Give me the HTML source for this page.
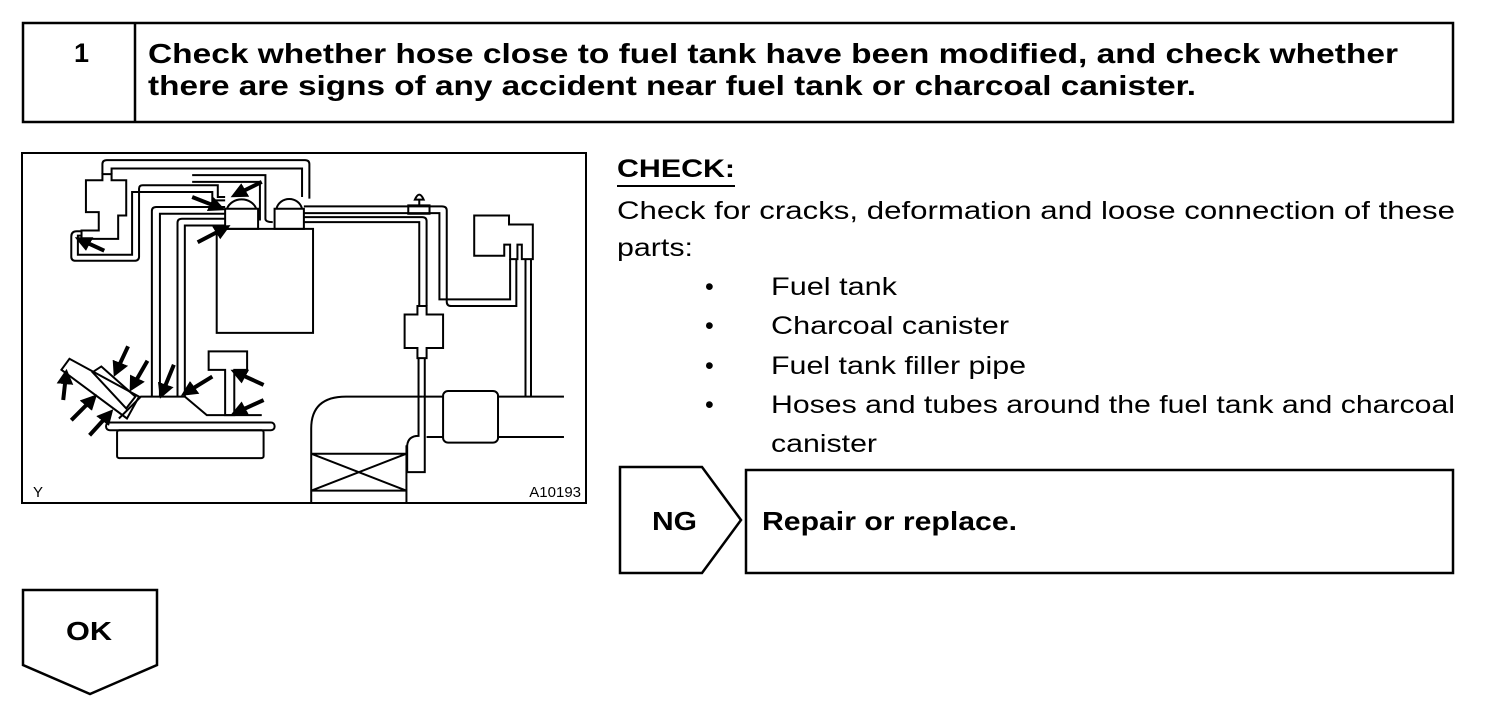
<!DOCTYPE html>
<html><head><meta charset="utf-8"><style>
html,body{margin:0;padding:0;background:#fff;}
svg{display:block;}
text{font-family:"Liberation Sans",Arial,sans-serif;fill:#000;}
.b{font-weight:bold;}
</style></head><body>
<svg width="1504" height="706" viewBox="0 0 1504 706" xmlns="http://www.w3.org/2000/svg">
<defs>
<marker id="ah" markerWidth="4" markerHeight="4" refX="2" refY="2" orient="auto" markerUnits="strokeWidth"><path d="M0,0 L4,2 L0,4 Z" fill="#000"/></marker>
</defs>
<!-- header -->
<rect x="23" y="23" width="1430" height="99" fill="none" stroke="#000" stroke-width="2.5"/>
<line x1="135" y1="23" x2="135" y2="122" stroke="#000" stroke-width="2.5"/>
<text x="74" y="62" class="b" font-size="27">1</text>
<text x="148" y="63" class="b" font-size="28" textLength="1250" lengthAdjust="spacingAndGlyphs">Check whether hose close to fuel tank have been modified, and check whether</text>
<text x="148" y="95" class="b" font-size="28" textLength="1048" lengthAdjust="spacingAndGlyphs">there are signs of any accident near fuel tank or charcoal canister.</text>

<!-- diagram -->
<g transform="translate(20,150) scale(0.3663,0.3356)" fill="none" stroke="#000">
<g stroke-width="2">
<rect x="537" y="235" width="263" height="310" vector-effect="non-scaling-stroke"/>
<rect x="560" y="175" width="90" height="60" vector-effect="non-scaling-stroke"/>
<rect x="695" y="175" width="80" height="60" vector-effect="non-scaling-stroke"/>
<path d="M565,175 A42,40 0 0 1 645,175" vector-effect="non-scaling-stroke"/>
<path d="M700,175 A36,38 0 0 1 770,175" vector-effect="non-scaling-stroke"/>
<path d="M180,90 H225 V72 H250 V90 H290 V195 H268 V265 H168 V240 H215 V185 H180 Z" vector-effect="non-scaling-stroke"/>
<path d="M225,72 V42 Q225,30 237,30 H778 Q790,30 790,42 V145" vector-effect="non-scaling-stroke"/>
<path d="M250,72 V55 H770 V140" vector-effect="non-scaling-stroke"/>
<path d="M470,75 H670 V205 Q670,215 690,215" vector-effect="non-scaling-stroke"/>
<path d="M470,95 H655 V210" vector-effect="non-scaling-stroke"/>
<path d="M168,242 H155 Q140,242 140,258 V318 Q140,330 152,330 H312 Q325,330 325,318 V115 Q325,105 335,105 H540 V140 H560" vector-effect="non-scaling-stroke"/>
<path d="M168,255 H158 V312 H306 V125 H525 V150 H560" vector-effect="non-scaling-stroke"/>
<path d="M560,170 H372 Q360,170 360,182 V735" vector-effect="non-scaling-stroke"/>
<path d="M560,190 H382 V735" vector-effect="non-scaling-stroke"/>
<path d="M560,205 H442 Q430,205 430,217 V735" vector-effect="non-scaling-stroke"/>
<path d="M560,225 H450 V735" vector-effect="non-scaling-stroke"/>
<path d="M775,168 H1152 Q1165,168 1165,180 V452 Q1165,465 1178,465 H1355 V325" vector-effect="non-scaling-stroke"/>
<path d="M775,188 H1145 V445 H1338 V325" vector-effect="non-scaling-stroke"/>
<path d="M775,200 H1098 Q1110,200 1110,212 V465" vector-effect="non-scaling-stroke"/>
<path d="M775,215 H1090 V465" vector-effect="non-scaling-stroke"/>
<rect x="1060" y="165" width="58" height="25" vector-effect="non-scaling-stroke"/>
<path d="M1078,148 Q1090,118 1102,148 Z M1090,148 V165" vector-effect="non-scaling-stroke"/>
<path d="M1085,465 H1110 V490 H1155 V590 H1110 V620 H1085 V590 H1050 V490 H1085 Z" vector-effect="non-scaling-stroke"/>
<path d="M1088,620 V852 Q1060,852 1057,880 V960" vector-effect="non-scaling-stroke"/>
<path d="M1105,620 V960 H1057" vector-effect="non-scaling-stroke"/>
<path d="M1240,195 H1335 V222 H1400 V325 H1370 V282 H1358 V325 H1338 V282 H1322 V315 H1240 Z" vector-effect="non-scaling-stroke"/>
<path d="M1380,325 V735 M1395,325 V735" vector-effect="non-scaling-stroke"/>
<path d="M1305,735 H1485 M1305,855 H1485 M1100,735 H1155 M1110,855 H1155" vector-effect="non-scaling-stroke"/>
<rect x="1155" y="718" width="150" height="154" rx="14" vector-effect="non-scaling-stroke"/>
<path d="M795,1050 V830 Q795,735 890,735 H1100" vector-effect="non-scaling-stroke"/>
<path d="M1055,880 V1050" vector-effect="non-scaling-stroke"/>
<path d="M795,905 H1055 M795,1015 H1055 M795,905 L1055,1015 M1055,905 L795,1015" vector-effect="non-scaling-stroke"/>
<rect x="265" y="835" width="400" height="83" rx="6" vector-effect="non-scaling-stroke"/>
<rect x="235" y="812" width="460" height="23" rx="10" vector-effect="non-scaling-stroke"/>
<path d="M270,800 L330,735 H450 L510,790 H660" vector-effect="non-scaling-stroke"/>
<path d="M113,655 L135,622 L325,735 L292,800 Z" vector-effect="non-scaling-stroke"/>
<path d="M198,662 L222,645 L315,735 L290,770 Z" vector-effect="non-scaling-stroke"/>
<path d="M515,600 H620 V655 H585 V790 H560 V655 H515 Z" vector-effect="non-scaling-stroke"/>
</g>
<g stroke-width="4" marker-end="url(#ah)">
<line x1="230" y1="300" x2="170" y2="270" vector-effect="non-scaling-stroke"/>
<line x1="470" y1="140" x2="540" y2="170" vector-effect="non-scaling-stroke"/>
<line x1="660" y1="95" x2="595" y2="130" vector-effect="non-scaling-stroke"/>
<line x1="485" y1="275" x2="555" y2="235" vector-effect="non-scaling-stroke"/>
<line x1="295" y1="585" x2="265" y2="655" vector-effect="non-scaling-stroke"/>
<line x1="348" y1="628" x2="310" y2="700" vector-effect="non-scaling-stroke"/>
<line x1="420" y1="640" x2="390" y2="720" vector-effect="non-scaling-stroke"/>
<line x1="525" y1="675" x2="458" y2="720" vector-effect="non-scaling-stroke"/>
<line x1="665" y1="700" x2="595" y2="665" vector-effect="non-scaling-stroke"/>
<line x1="665" y1="745" x2="595" y2="780" vector-effect="non-scaling-stroke"/>
<line x1="118" y1="745" x2="125" y2="675" vector-effect="non-scaling-stroke"/>
<line x1="140" y1="805" x2="195" y2="745" vector-effect="non-scaling-stroke"/>
<line x1="190" y1="850" x2="240" y2="790" vector-effect="non-scaling-stroke"/>
</g>
</g>
<rect x="22" y="153" width="564" height="350" fill="none" stroke="#000" stroke-width="2"/>
<text x="33" y="497" font-size="15">Y</text>
<text x="581" y="497" font-size="15" text-anchor="end">A10193</text>

<text x="617" y="177" class="b" font-size="25" textLength="118" lengthAdjust="spacingAndGlyphs">CHECK:</text>
<line x1="617" y1="186" x2="735" y2="186" stroke="#000" stroke-width="2"/>
<text x="617" y="219" font-size="25" textLength="838" lengthAdjust="spacingAndGlyphs">Check for cracks, deformation and loose connection of these</text>
<text x="617" y="256" font-size="25" textLength="76" lengthAdjust="spacingAndGlyphs">parts:</text>
<g font-size="25">
<text x="705" y="295">•</text><text x="771" y="295" textLength="126" lengthAdjust="spacingAndGlyphs">Fuel tank</text>
<text x="705" y="334">•</text><text x="771" y="334" textLength="238" lengthAdjust="spacingAndGlyphs">Charcoal canister</text>
<text x="705" y="374">•</text><text x="771" y="374" textLength="255" lengthAdjust="spacingAndGlyphs">Fuel tank filler pipe</text>
<text x="705" y="413">•</text><text x="771" y="413" textLength="684" lengthAdjust="spacingAndGlyphs">Hoses and tubes around the fuel tank and charcoal</text>
<text x="771" y="452" textLength="106" lengthAdjust="spacingAndGlyphs">canister</text>
</g>

<polygon points="620,467 702,467 741,520 702,573 620,573" fill="none" stroke="#000" stroke-width="2.5"/>
<text x="652" y="530" class="b" font-size="26" textLength="45" lengthAdjust="spacingAndGlyphs">NG</text>
<rect x="746" y="470" width="707" height="103" fill="none" stroke="#000" stroke-width="2.5"/>
<text x="762" y="530" class="b" font-size="26" textLength="255" lengthAdjust="spacingAndGlyphs">Repair or replace.</text>

<polygon points="23,590 157,590 157,665 90,694 23,665" fill="none" stroke="#000" stroke-width="2.5"/>
<text x="66" y="640" class="b" font-size="26" textLength="46" lengthAdjust="spacingAndGlyphs">OK</text>
</svg>
</body></html>
